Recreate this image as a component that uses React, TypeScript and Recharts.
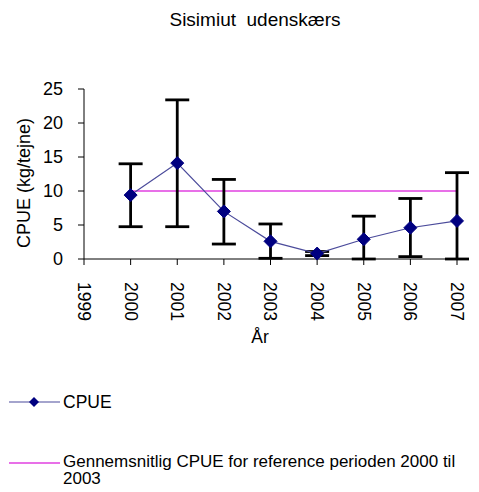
import { ErrorBar, Label, Line, LineChart, XAxis, YAxis } from 'recharts';

const years = [1999, 2000, 2001, 2002, 2003, 2004, 2005, 2006, 2007];
const cpue = [null, 9.4, 14.1, 7.0, 2.6, 0.8, 2.9, 4.6, 5.6];
const lower = [null, 4.75, 4.75, 2.2, 0.1, 0.5, 0, 0.35, 0];
const upper = [null, 14.0, 23.4, 11.7, 5.15, 1.1, 6.3, 8.9, 12.7];
const refMean = [null, 10, 10, 10, 10, 10, 10, 10, 10];
const yTicks = [0, 5, 10, 15, 20, 25];

const data = years.map((year, i) => {
    const v = cpue[i];
    const lo = lower[i];
    const hi = upper[i];
    return {
        year,
        cpue: v,
        ref: refMean[i],
        err: v != null && lo != null && hi != null ? [v - lo, hi - v] : null,
    };
});

const font = '"Liberation Sans", Arial, sans-serif';

const Diamond = (props: any) => {
    const { cx, cy, value } = props;
    if (value == null || cx == null || cy == null) return null;
    const r = 6.5;
    return (
        <polygon
            points={`${cx},${cy - r} ${cx + r},${cy} ${cx},${cy + r} ${cx - r},${cy}`}
            fill="#000080"
            stroke="#000080"
        />
    );
};

const YearTick = (props: any) => {
    const { x, y, payload } = props;
    return (
        <g transform={`translate(${x},${y})`}>
            <text
                transform="rotate(90)"
                x={15}
                y={0}
                dy="0.35em"
                textAnchor="start"
                fontSize={17.5}
                fontFamily={font}
                fill="#000"
            >
                {payload.value}
            </text>
        </g>
    );
};

export default function App() {
    return (
        <div
            style={{
                position: 'absolute',
                left: 0,
                top: 0,
                width: 479,
                height: 492,
                background: '#fff',
                fontFamily: font,
                color: '#000',
            }}
        >
            <div
                style={{
                    position: 'absolute',
                    top: 9,
                    left: 155,
                    width: 200,
                    textAlign: 'center',
                    fontSize: 19,
                    whiteSpace: 'pre',
                }}
            >
                {'Sisimiut  udenskærs'}
            </div>
            <LineChart width={479} height={370} data={data} margin={{ top: 89, right: 22, left: 0, bottom: 0 }}>
                <XAxis
                    dataKey="year"
                    type="number"
                    domain={[1999, 2007]}
                    ticks={years}
                    interval={0}
                    height={111}
                    tick={<YearTick />}
                    tickLine={{ stroke: '#000' }}
                    axisLine={{ stroke: '#000' }}
                    tickSize={6}
                >
                    <Label
                        content={() => (
                            <text x={260} y={343} textAnchor="middle" fontSize={17.5} fontFamily={font} fill="#000">
                                År
                            </text>
                        )}
                    />
                </XAxis>
                <YAxis
                    domain={[0, 25]}
                    ticks={yTicks}
                    width={84}
                    tick={{ fontSize: 18, fontFamily: font, fill: '#000' }}
                    tickLine={{ stroke: '#000' }}
                    axisLine={{ stroke: '#000' }}
                    tickSize={6}
                    tickMargin={15}
                >
                    <Label
                        content={() => (
                            <text
                                x={24}
                                y={183}
                                transform="rotate(-90 24 183)"
                                textAnchor="middle"
                                dy="0.35em"
                                fontSize={18}
                                fontFamily={font}
                                fill="#000"
                            >
                                CPUE (kg/tejne)
                            </text>
                        )}
                    />
                </YAxis>
                <Line
                    dataKey="ref"
                    stroke="#e040e0"
                    strokeWidth={1.5}
                    dot={false}
                    activeDot={false}
                    isAnimationActive={false}
                />
                <Line
                    dataKey="cpue"
                    stroke="#4b4b9b"
                    strokeWidth={1.2}
                    dot={<Diamond />}
                    activeDot={false}
                    isAnimationActive={false}
                >
                    <ErrorBar dataKey="err" direction="y" width={12} strokeWidth={2.8} stroke="#000" />
                </Line>
            </LineChart>
            <div
                style={{
                    position: 'absolute',
                    top: 392,
                    left: 9,
                    display: 'flex',
                    alignItems: 'flex-start',
                    fontSize: 17.5,
                    lineHeight: '20px',
                }}
            >
                <svg width={51} height={20} style={{ marginRight: 3 }}>
                    <line x1={0} y1={10} x2={51} y2={10} stroke="#4b4b9b" strokeWidth={1.2} />
                    <polygon points="25,5 30,10 25,15 20,10" fill="#000080" />
                </svg>
                <span>CPUE</span>
            </div>
            <div
                style={{
                    position: 'absolute',
                    top: 453,
                    left: 9,
                    display: 'flex',
                    alignItems: 'flex-start',
                    fontSize: 17,
                    lineHeight: '17px',
                    whiteSpace: 'nowrap',
                }}
            >
                <svg width={51} height={17} style={{ marginRight: 3, flex: 'none' }}>
                    <line x1={0} y1={10} x2={51} y2={10} stroke="#e040e0" strokeWidth={1.5} />
                </svg>
                <span>
                    Gennemsnitlig CPUE for reference perioden 2000 til
                    <br />
                    2003
                </span>
            </div>
        </div>
    );
}
